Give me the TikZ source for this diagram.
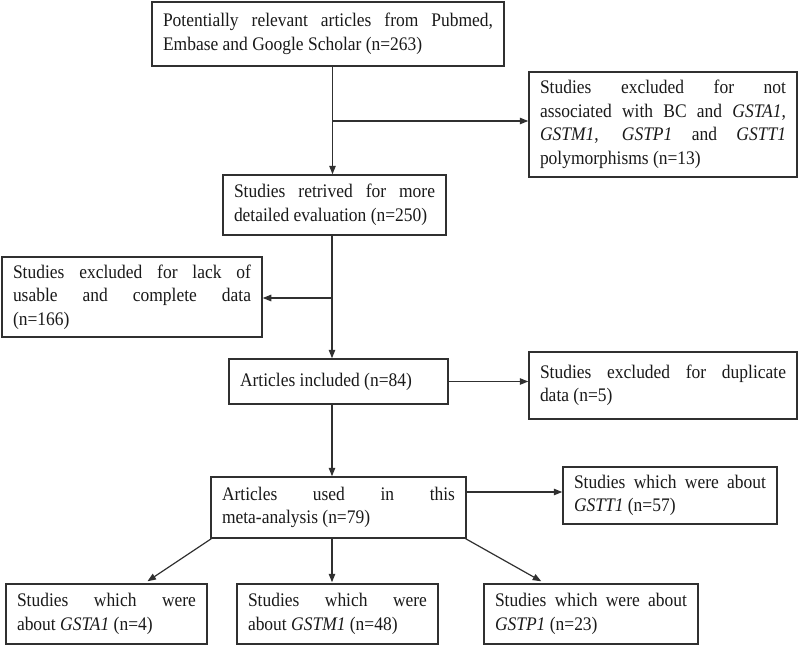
\documentclass[tikz,border=0pt]{standalone}
\usepackage{fontspec}
\setmainfont[FakeStretch=0.91]{Liberation Serif}
\usetikzlibrary{arrows.meta,calc}
\definecolor{ln}{HTML}{303030}
\definecolor{tx}{HTML}{1A1A1A}
\newcommand{\boxfont}{\fontsize{19.2}{23.5}\selectfont\hyphenpenalty=10000\exhyphenpenalty=10000\color{tx}}
\tikzset{
  flowbox/.style={draw=ln, line width=1.5pt, inner xsep=11pt, inner ysep=0pt,
    align=justify, font=\boxfont, fill=white},
  conn/.style={draw=ln, line width=1.2pt, -{Triangle[length=8.5pt,width=6.5pt]}}
}
\begin{document}
\begin{tikzpicture}[x=1pt,y=-1pt]
\useasboundingbox (0,0) rectangle (800,646);
\fill[white] (0,0) rectangle (800,646);

\node[flowbox, minimum width=352pt, minimum height=64pt, text width=330pt] (b1) at (328,34)
  {Potentially relevant articles from Pubmed,\linebreak Embase and Google Scholar (n=263)};
\node[flowbox, minimum width=268pt, minimum height=105pt, text width=246pt] (ex1) at (663,124.5)
  {Studies excluded for not\linebreak associated with BC and \textit{GSTA1},\linebreak \textit{GSTM1}, \textit{GSTP1} and \textit{GSTT1}\linebreak polymorphisms (n=13)};
\node[flowbox, minimum width=223pt, minimum height=60pt, text width=201pt] (b2) at (334.5,205)
  {Studies retrived for more\linebreak detailed evaluation (n=250)};
\node[flowbox, minimum width=260pt, minimum height=80pt, text width=238pt] (ex2) at (132,297)
  {Studies excluded for lack of\linebreak usable and complete data\linebreak (n=166)};
\node[flowbox, minimum width=219pt, minimum height=45pt, text width=197pt] (inc) at (338.5,381.5)
  {Articles included (n=84)};
\node[flowbox, minimum width=268pt, minimum height=67pt, text width=246pt] (dup) at (663,385.5)
  {Studies excluded for duplicate\linebreak data (n=5)};
\node[flowbox, minimum width=255pt, minimum height=61pt, text width=233pt] (meta) at (338.5,507.5)
  {Articles used in this\linebreak meta-analysis (n=79)};
\node[flowbox, minimum width=214pt, minimum height=57pt, text width=192pt] (t1) at (670,495.5)
  {Studies which were about\linebreak \textit{GSTT1} (n=57)};
\node[flowbox, minimum width=201pt, minimum height=60pt, text width=179pt] (a1) at (106.5,614)
  {Studies which were\linebreak about \textit{GSTA1} (n=4)};
\node[flowbox, minimum width=201pt, minimum height=60pt, text width=179pt] (m1) at (337.5,614)
  {Studies which were\linebreak about \textit{GSTM1} (n=48)};
\node[flowbox, minimum width=214pt, minimum height=60pt, text width=192pt] (p1) at (591,614)
  {Studies which were about\linebreak \textit{GSTP1} (n=23)};

\coordinate (spine) at (332.5,0);
\coordinate (j1) at (332.5,121);
\coordinate (j2) at (332,298);
\coordinate (j3) at (0,492);

\draw[conn] (b1.south -| spine) -- (b2.north -| spine);
\draw[conn] (j1) -- (j1 -| ex1.west);
\draw[conn] (b2.south -| j2) -- (inc.north -| j2);
\draw[conn] (j2) -- (j2 -| ex2.east);
\draw[conn] (inc.south -| j2) -- (meta.north -| j2);
\draw[conn] (inc.east) -- (inc.east -| dup.west);
\draw[conn] (meta.east |- j3) -- (t1.west |- j3);
\draw[conn] ([xshift=1pt]meta.south west) -- ([xshift=41pt,yshift=2pt]a1.north);
\draw[conn] (meta.south -| j2) -- ([yshift=1pt]m1.north -| j2);
\draw[conn] ([xshift=-1pt]meta.south east) -- ([xshift=58pt,yshift=2pt]p1.north west);
\end{tikzpicture}
\end{document}
